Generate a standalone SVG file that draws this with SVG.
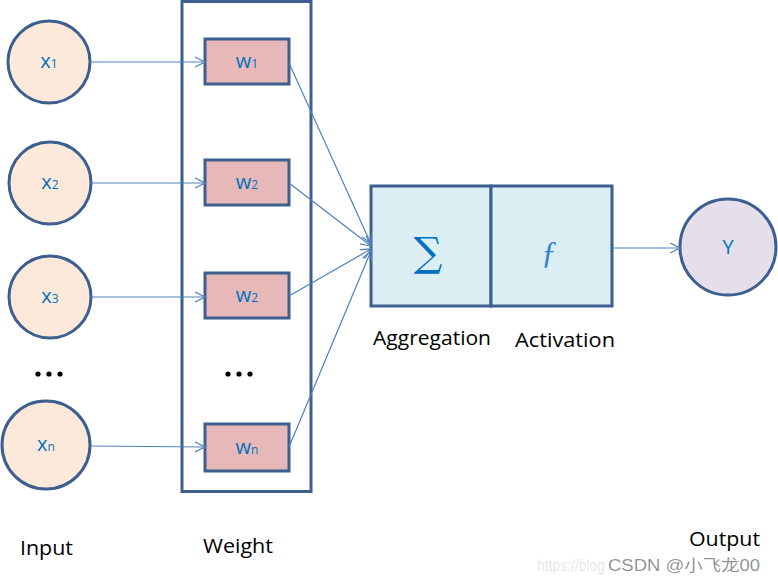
<svg xmlns="http://www.w3.org/2000/svg" width="778" height="576" viewBox="0 0 778 576">
<defs>
<marker id="arr" markerWidth="12" markerHeight="12" refX="11" refY="6" orient="auto" markerUnits="userSpaceOnUse">
<path d="M1,1 L11,6 L1,11" fill="none" stroke="#4f81bd" stroke-width="1.2"/>
</marker>
<style>
.in{fill:#fde9d9;stroke:#3c5f8f;stroke-width:3}
.w{fill:#e6b9b8;stroke:#3c5f8f;stroke-width:3}
.box{fill:#dbeef4;stroke:#3c5f8f;stroke-width:3}
.out{fill:#e5dfec;stroke:#3c5f8f;stroke-width:3}
.frame{fill:none;stroke:#3c5f8f;stroke-width:3}
.lbl{font-family:"Open Sans","Liberation Sans",sans-serif;font-size:20px;fill:#0070c0;text-anchor:middle}
.sub{font-size:12px}
.cap{font-family:"Open Sans","Liberation Sans",sans-serif;font-size:20px;fill:#000}
.c{fill:none;stroke:#4f81bd;stroke-width:1.2;marker-end:url(#arr)}
</style>
</defs>
<rect width="778" height="576" fill="#fff"/>
<g id="weight-frame"><rect class="frame" x="182" y="1.5" width="129" height="490"/></g>
<g id="x1"><circle class="in" cx="49" cy="62" r="41"/><text class="lbl" x="49" y="68">x<tspan class="sub">1</tspan></text></g>
<g id="x2"><circle class="in" cx="50" cy="183" r="41"/><text class="lbl" x="50" y="189">x<tspan class="sub">2</tspan></text></g>
<g id="x3"><circle class="in" cx="50" cy="297" r="41"/><text class="lbl" x="50" y="303">x<tspan class="sub">3</tspan></text></g>
<g id="xn"><circle class="in" cx="46" cy="445" r="44"/><text class="lbl" x="46" y="451">x<tspan class="sub">n</tspan></text></g>
<g id="w1"><rect class="w" x="205" y="39" width="84" height="45"/><text class="lbl" x="247" y="68">w<tspan class="sub">1</tspan></text></g>
<g id="w2"><rect class="w" x="205" y="160" width="84" height="45"/><text class="lbl" x="247" y="189">w<tspan class="sub">2</tspan></text></g>
<g id="w3"><rect class="w" x="205" y="273" width="84" height="45"/><text class="lbl" x="247" y="302">w<tspan class="sub">2</tspan></text></g>
<g id="wn"><rect class="w" x="205" y="424" width="84" height="47"/><text class="lbl" x="247" y="454">w<tspan class="sub">n</tspan></text></g>
<g id="aggregation"><rect class="box" x="371" y="186" width="120" height="120"/><text x="428" y="266" font-family="'DejaVu Serif','Liberation Serif',serif" font-size="40" fill="#0070c0" text-anchor="middle">∑</text></g>
<g id="activation"><rect class="box" x="491" y="186" width="121" height="120"/><text x="549" y="263" font-family="'Liberation Serif','DejaVu Serif',serif" font-style="italic" font-size="32" fill="#2f86d0" text-anchor="middle">ƒ</text></g>
<g id="y"><circle class="out" cx="728" cy="247" r="48"/><text class="lbl" x="728" y="254">Y</text></g>
<g id="connectors">
<line class="c" x1="90" y1="62" x2="205" y2="62"/>
<line class="c" x1="91" y1="183" x2="205" y2="183"/>
<line class="c" x1="91" y1="297" x2="205" y2="297"/>
<line class="c" x1="90" y1="446" x2="205" y2="447"/>
<line class="c" x1="289" y1="63" x2="371" y2="244"/>
<line class="c" x1="289" y1="183" x2="371" y2="246"/>
<line class="c" x1="289" y1="296" x2="371" y2="249"/>
<line class="c" x1="289" y1="447" x2="371" y2="251"/>
<line class="c" x1="612" y1="248" x2="680" y2="248"/>
</g>
<g id="dots" fill="#000"><circle cx="38" cy="374" r="2.6"/><circle cx="49" cy="374" r="2.6"/><circle cx="60" cy="374" r="2.6"/><circle cx="228" cy="374" r="2.6"/><circle cx="239" cy="374" r="2.6"/><circle cx="250" cy="374" r="2.6"/></g>
<g id="captions">
<text class="cap" x="373" y="345" textLength="118" lengthAdjust="spacingAndGlyphs">Aggregation</text>
<text class="cap" x="515" y="347" textLength="100" lengthAdjust="spacingAndGlyphs">Activation</text>
<text class="cap" x="20" y="555" textLength="53" lengthAdjust="spacingAndGlyphs">Input</text>
<text class="cap" x="203" y="553" textLength="70" lengthAdjust="spacingAndGlyphs">Weight</text>
<text class="cap" x="689" y="546" textLength="71" lengthAdjust="spacingAndGlyphs">Output</text>
</g>
<g id="watermark" font-family="'Liberation Sans','Noto Sans CJK SC',sans-serif" font-size="16">
<text x="537" y="571" fill="#000" fill-opacity="0.12" textLength="68" lengthAdjust="spacingAndGlyphs">https://blog</text>
<text x="608" y="571" fill="#000" fill-opacity="0.45" textLength="152" lengthAdjust="spacingAndGlyphs">CSDN @小飞龙00</text>
</g>
</svg>
